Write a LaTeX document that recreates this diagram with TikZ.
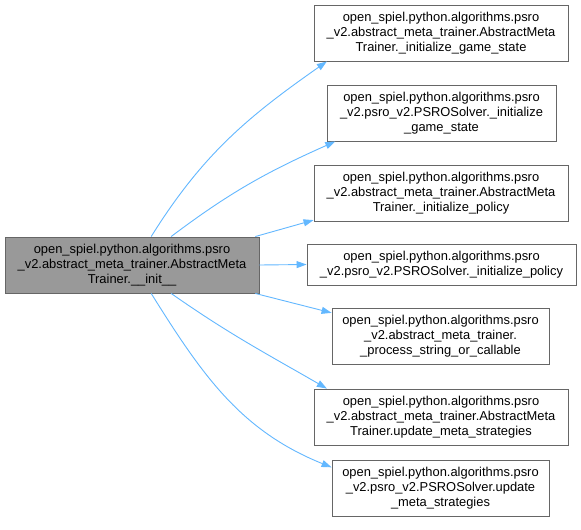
\documentclass[tikz,border=0pt]{standalone}
\usepackage{fontspec}
\setmainfont{Liberation Sans}
\usetikzlibrary{arrows.meta}
\definecolor{edgeblue}{HTML}{63B8FF}
\definecolor{boxborder}{HTML}{666666}
\definecolor{mainfill}{HTML}{999999}
\begin{document}
\begin{tikzpicture}[x=1pt,y=-1pt,
  fn/.style={draw=boxborder, line width=0.9pt, fill=white, align=center, inner sep=0pt,
     font=\fontsize{12.9}{15}\selectfont, minimum height=#1},
  fn/.default=56pt,
  edge/.style={draw=edgeblue, line width=0.9pt, -{Triangle[length=10pt,width=7pt]}}]
\useasboundingbox[fill=white] (0,0) rectangle (581,530);
\node[fn, fill=mainfill, minimum width=254pt] (main) at (132,265)
  {open\_spiel.python.algorithms.psro\\\_v2.abstract\_meta\_trainer.AbstractMeta\\Trainer.\_\_init\_\_};
\node[fn, minimum width=254pt] (b1) at (441,33)
  {open\_spiel.python.algorithms.psro\\\_v2.abstract\_meta\_trainer.AbstractMeta\\Trainer.\_initialize\_game\_state};
\node[fn, minimum width=229pt] (b2) at (441.5,113)
  {open\_spiel.python.algorithms.psro\\\_v2.psro\_v2.PSROSolver.\_initialize\\\_game\_state};
\node[fn, minimum width=254pt] (b3) at (441,193)
  {open\_spiel.python.algorithms.psro\\\_v2.abstract\_meta\_trainer.AbstractMeta\\Trainer.\_initialize\_policy};
\node[fn=41pt, minimum width=269pt] (b4) at (441.5,264.5)
  {open\_spiel.python.algorithms.psro\\\_v2.psro\_v2.PSROSolver.\_initialize\_policy};
\node[fn, minimum width=217pt] (b5) at (440.5,336)
  {open\_spiel.python.algorithms.psro\\\_v2.abstract\_meta\_trainer.\\\_process\_string\_or\_callable};
\node[fn, minimum width=254pt] (b6) at (441,417)
  {open\_spiel.python.algorithms.psro\\\_v2.abstract\_meta\_trainer.AbstractMeta\\Trainer.update\_meta\_strategies};
\node[fn, minimum width=217pt] (b7) at (440.5,488.5)
  {open\_spiel.python.algorithms.psro\\\_v2.psro\_v2.PSROSolver.update\\\_meta\_strategies};
\draw[edge] (main.56) to[out=58,in=215] (b1.194);
\draw[edge] (main.36) to[out=37,in=204] (b2.195);
\draw[edge] (main.13) -- (b3.192);
\draw[edge] (main.east) -- (b4.west);
\draw[edge] (main.-13) -- (b5.168);
\draw[edge] (main.-36) to[out=-35,in=150] (b6.166);
\draw[edge] (main.-56) to[out=-58,in=158] (b7.169);
\end{tikzpicture}
\end{document}
